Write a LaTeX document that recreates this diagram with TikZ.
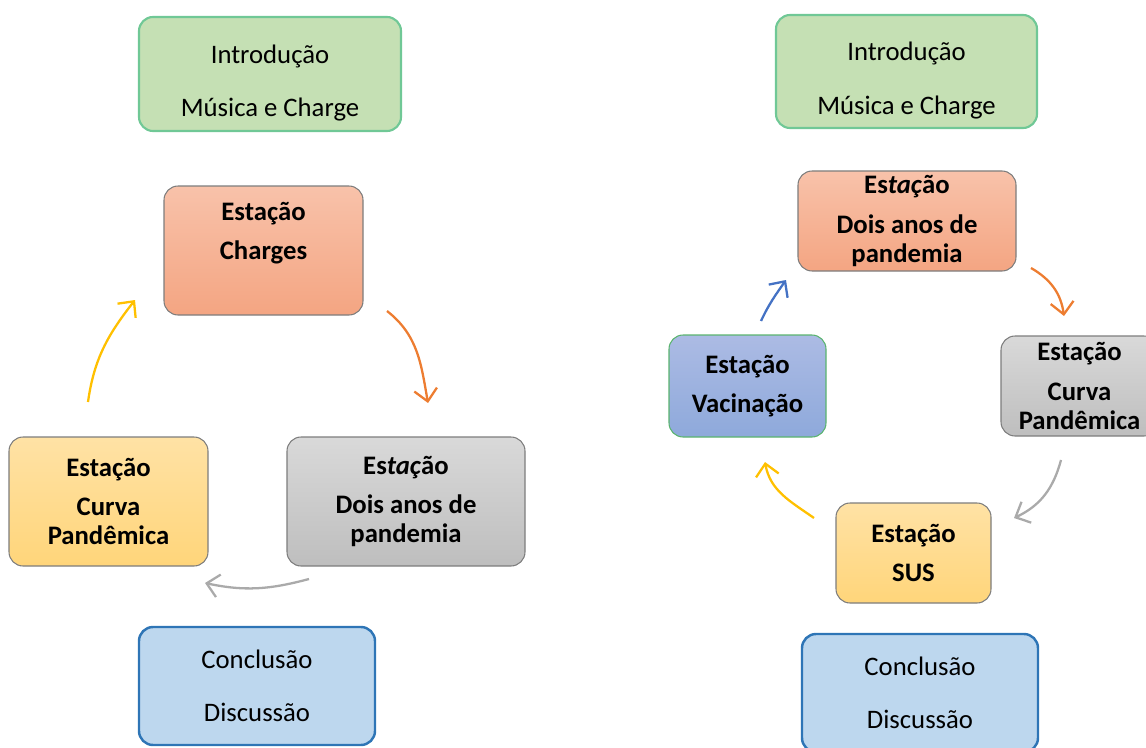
\documentclass[tikz,border=0pt]{standalone}
\usepackage{fontspec}
\setmainfont{Carlito}
\usetikzlibrary{arrows.meta}
\definecolor{introfill}{RGB}{197,224,180}
\definecolor{introline}{RGB}{112,200,150}
\definecolor{conclfill}{RGB}{189,215,238}
\definecolor{conclline}{RGB}{46,117,182}
\definecolor{salmontop}{RGB}{248,194,170}
\definecolor{salmonbot}{RGB}{244,165,130}
\definecolor{greytop}{RGB}{217,217,217}
\definecolor{greybot}{RGB}{190,190,190}
\definecolor{goldtop}{RGB}{255,226,165}
\definecolor{goldbot}{RGB}{255,213,122}
\definecolor{violettop}{RGB}{172,187,228}
\definecolor{violetbot}{RGB}{142,169,219}
\definecolor{boxline}{RGB}{125,125,125}
\definecolor{vacline}{RGB}{90,180,110}
\definecolor{arrorange}{RGB}{237,125,49}
\definecolor{arrgrey}{RGB}{170,170,170}
\definecolor{arrgold}{RGB}{255,192,0}
\definecolor{arrblue}{RGB}{68,114,196}

\tikzset{
  card/.style={rounded corners=8pt,align=center,inner sep=0pt,
    font=\fontsize{15.2}{16.4}\selectfont},
  intro/.style={card,fill=introfill,draw=introline,line width=1.2pt},
  concl/.style={card,fill=conclfill,draw=conclline,line width=1.4pt},
  station/.style={card,draw=boxline,line width=0.6pt,font=\fontsize{15.2}{16.4}\selectfont\bfseries},
  salmon/.style={station,top color=salmontop,bottom color=salmonbot},
  grey/.style={station,top color=greytop,bottom color=greybot},
  gold/.style={station,top color=goldtop,bottom color=goldbot},
  violet/.style={station,top color=violettop,bottom color=violetbot,draw=vacline},
  flow/.style={line width=1.3pt,-{Straight Barb[length=2.4mm,width=4.6mm]}}
}

\begin{document}
\begin{tikzpicture}
\useasboundingbox (0,0) rectangle (22.92,14.94);

% left cycle
\node [intro,minimum width=5.24cm,minimum height=2.28cm] (introL) at (5.40,13.46)
  {\rule{0pt}{21pt}Introdução\\[14pt]Música e Charge};
\node [salmon,minimum width=3.98cm,minimum height=2.58cm] (charges) at (5.27,9.93)
  {Estação\\[6pt]Charges\\[6pt]\mbox{}};
\node [grey,minimum width=4.76cm,minimum height=2.58cm] (doisL) at (8.12,4.91)
  {Es\textit{taç}ão\\[6pt]Dois anos de\\pandemia};
\node [gold,minimum width=3.98cm,minimum height=2.58cm] (curvaL) at (2.17,4.91)
  {Estação\\[6pt]Curva\\Pandêmica};
\node [concl,minimum width=4.72cm,minimum height=2.36cm] (conclL) at (5.14,1.22)
  {Conclusão\\[14pt]Discussão};

\coordinate (goldLa) at (1.76,6.90);
\coordinate (goldLb) at (2.70,8.94);
\coordinate (orangeLa) at (7.74,8.72);
\coordinate (orangeLb) at (8.56,6.88);
\coordinate (greyLa) at (6.18,3.36);
\coordinate (greyLb) at (4.10,3.28);
\draw [flow,arrgold] (goldLa) to[out=82,in=232] (goldLb);
\draw [flow,arrorange] (orangeLa) to[out=-38,in=100] (orangeLb);
\draw [flow,arrgrey] (greyLa) to[out=195,in=-12] (greyLb);

% right cycle
\node [intro,minimum width=5.22cm,minimum height=2.26cm] (introR) at (18.13,13.51)
  {\rule{0pt}{21pt}Introdução\\[14pt]Música e Charge};
\node [salmon,minimum width=4.36cm,minimum height=2.0cm] (doisR) at (18.14,10.52)
  {Es\textit{taç}ão\\[6pt]Dois anos de\\pandemia};
\node [grey,minimum width=3.14cm,minimum height=2.0cm] (curvaR) at (21.59,7.22)
  {Estação\\[6pt]Curva\\Pandêmica};
\node [violet,minimum width=3.14cm,minimum height=2.04cm] (vacina) at (14.95,7.22)
  {Estação\\[6pt]Vacinação};
\node [gold,minimum width=3.10cm,minimum height=2.0cm] (sus) at (18.27,3.88)
  {Estação\\[6pt]SUS};
\node [concl,minimum width=4.72cm,minimum height=2.36cm] (conclR) at (18.40,1.08)
  {Conclusão\\[14pt]Discussão};

\coordinate (orangeRa) at (20.62,9.58);
\coordinate (orangeRb) at (21.28,8.62);
\coordinate (greyRa) at (21.22,5.74);
\coordinate (greyRb) at (20.28,4.58);
\coordinate (goldRa) at (16.28,4.58);
\coordinate (goldRb) at (15.30,5.70);
\coordinate (blueRa) at (15.22,8.52);
\coordinate (blueRb) at (15.72,9.34);
\draw [flow,arrorange] (orangeRa) to[out=-30,in=98] (orangeRb);
\draw [flow,arrgrey] (greyRa) to[out=-105,in=25] (greyRb);
\draw [flow,arrgold] (goldRa) to[out=145,in=-80] (goldRb);
\draw [flow,arrblue] (blueRa) to[out=65,in=-125] (blueRb);
\end{tikzpicture}
\end{document}
